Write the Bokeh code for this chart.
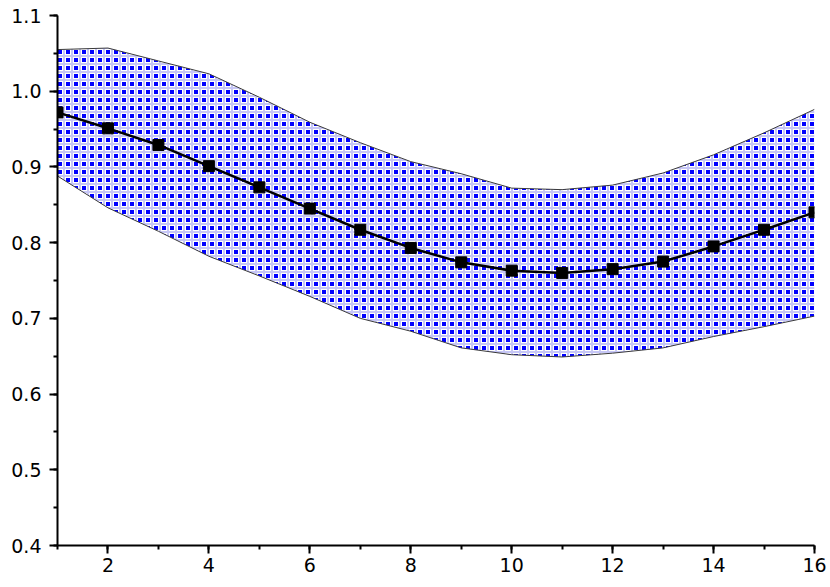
from bokeh.plotting import figure
from bokeh.models import SingleIntervalTicker, PrintfTickFormatter, Range1d, ColumnDataSource, CanvasTexture
from bokeh.embed import file_html
from bokeh.resources import INLINE

x = [1, 2, 3, 4, 5, 6, 7, 8, 9, 10, 11, 12, 13, 14, 15, 16]
mean = [0.972, 0.951, 0.929, 0.901, 0.873, 0.845, 0.817, 0.793, 0.774, 0.763, 0.760, 0.765, 0.775, 0.795, 0.817, 0.840]
upper = [1.055, 1.057, 1.040, 1.023, 0.992, 0.959, 0.932, 0.907, 0.891, 0.872, 0.870, 0.876, 0.892, 0.916, 0.945, 0.976]
lower = [0.888, 0.846, 0.815, 0.782, 0.756, 0.729, 0.700, 0.683, 0.661, 0.652, 0.649, 0.654, 0.661, 0.676, 0.689, 0.703]

src = ColumnDataSource(dict(x=x, mean=mean, upper=upper, lower=lower))

p = figure(width=830, height=587, output_backend="svg", toolbar_location=None,
           x_range=Range1d(1, 16), y_range=Range1d(0.4, 1.1),
           min_border_left=57, min_border_right=16, min_border_top=15, min_border_bottom=42)
p.outline_line_color = None
p.grid.visible = False
p.background_fill_color = "white"
p.border_fill_color = "white"

tex_code = """
if (ctx.canvas && (ctx.canvas.width < 8 || ctx.canvas.height < 8)) {
  ctx.canvas.width = 8;
  ctx.canvas.height = 8;
}
ctx.setTransform(1, 0, 0, 1, 0, 0);
ctx.clearRect(0, 0, 8, 8);
ctx.fillStyle = 'rgba(160,160,240,0.6)';
ctx.fillRect(0, 0, 8, 1);
ctx.fillRect(0, 7, 8, 1);
ctx.fillRect(0, 1, 1, 6);
ctx.fillRect(7, 1, 1, 6);
ctx.fillStyle = 'rgb(0,0,255)';
ctx.fillRect(2, 2, 4, 4);
"""
tex = CanvasTexture(code=tex_code)

p.varea(x="x", y1="lower", y2="upper", source=src, fill_color="#ffffff",
        hatch_pattern="dot", hatch_extra={"dot": tex}, hatch_scale=8, hatch_weight=1,
        hatch_color="#0000ff")
p.line(x="x", y="upper", source=src, line_color="#3a3a3a", line_width=1)
p.line(x="x", y="lower", source=src, line_color="#3a3a3a", line_width=1)
p.line(x="x", y="mean", source=src, line_color="black", line_width=2.5)
p.scatter(x="x", y="mean", source=src, marker="square", size=11, fill_color="black", line_color="black")

xa = p.xaxis[0]
ya = p.yaxis[0]
xa.ticker = SingleIntervalTicker(interval=2, num_minor_ticks=2)
ya.ticker = SingleIntervalTicker(interval=0.1, num_minor_ticks=2)
ya.formatter = PrintfTickFormatter(format="%.1f")
for ax in (xa, ya):
    ax.axis_line_width = 2
    ax.axis_line_color = "black"
    ax.major_tick_line_width = 2
    ax.minor_tick_line_width = 2
    ax.major_tick_line_color = "black"
    ax.minor_tick_line_color = "black"
    ax.major_tick_out = 8
    ax.major_tick_in = 0
    ax.minor_tick_out = 4
    ax.minor_tick_in = 0
    ax.major_label_text_font = "DejaVu Sans"
    ax.major_label_text_font_size = "19px"
    ax.major_label_text_color = "black"
xa.major_label_standoff = 4
ya.major_label_standoff = 8

open("out.html", "w").write(file_html(p, INLINE))
